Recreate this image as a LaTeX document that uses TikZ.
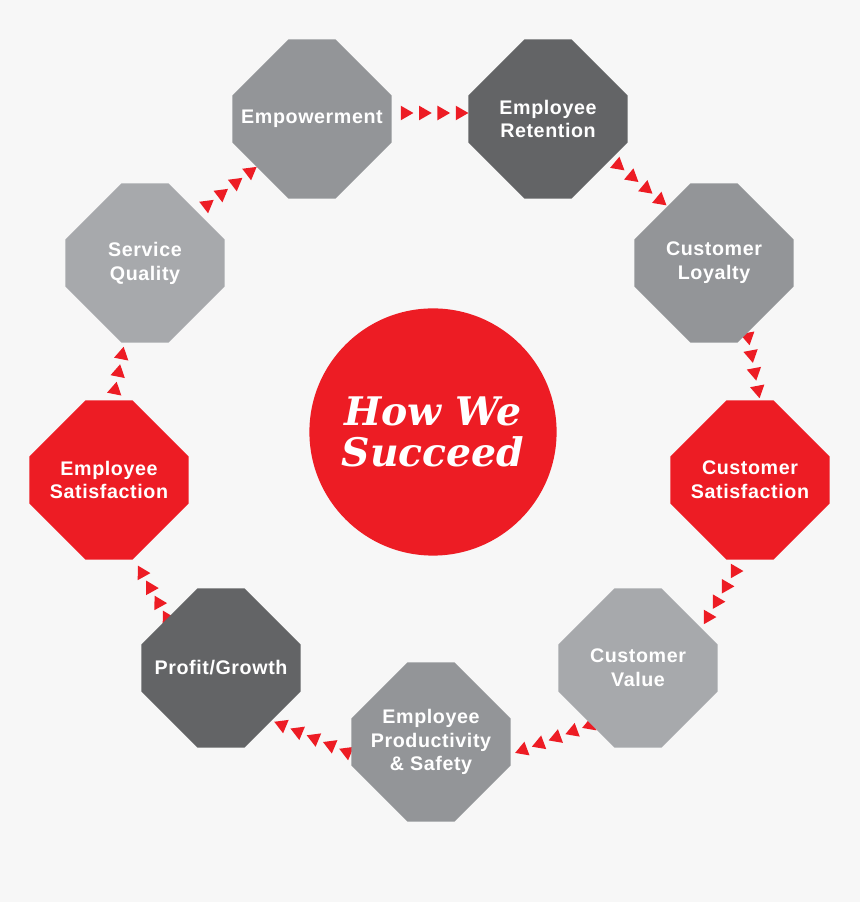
\documentclass[tikz,border=0pt]{standalone}
\usepackage{fontspec}
\usepackage{tikz}
\usetikzlibrary{calc,shapes.geometric,positioning}
\newfontfamily\octfont{Liberation Sans}[LetterSpace=3]
\newfontfamily\hubfont{DejaVu Serif}
\definecolor{cRed}{HTML}{ED1C24}
\definecolor{cMid}{HTML}{939598}
\definecolor{cDark}{HTML}{636466}
\definecolor{cLight}{HTML}{A7A9AC}
\definecolor{cBack}{HTML}{F7F7F7}
\tikzset{
  octo/.pic={\fill[pic actions] (-0.59,1.99) -- (0.59,1.99) -- (1.99,0.59) -- (1.99,-0.59)
    -- (0.59,-1.99) -- (-0.59,-1.99) -- (-1.99,-0.59) -- (-1.99,0.59) -- cycle;},
  lbl/.style={inner sep=0pt,text=white,align=center,
    font=\octfont\bfseries\fontsize{14}{17}\selectfont},
  hub/.style={circle,fill=cRed,minimum size=6.18cm,inner sep=0pt,text=white,align=center,
    font=\hubfont\bfseries\itshape\fontsize{28}{29}\selectfont},
  tri/.style={regular polygon,regular polygon sides=3,shape border rotate=-90,
    fill=cRed,inner sep=0pt,minimum size=0.42cm,sloped,allow upside down},
}
\begin{document}
\begin{tikzpicture}
  \fill[cBack] (0,0) rectangle (21.5,22.55);
  \useasboundingbox (0,0) rectangle (21.5,22.55);
  % ends of the arrow rows
  \coordinate (a1) at (10.125,19.725); \coordinate (b1) at (11.5,19.725);
  \coordinate (a2) at (15.45,18.425);  \coordinate (b2) at (16.5,17.55);
  \coordinate (a3) at (18.7,14.125);   \coordinate (b3) at (18.95,12.8);
  \coordinate (a4) at (18.375,8.275);  \coordinate (b4) at (17.7,7.125);
  \coordinate (a5) at (14.75,4.425);   \coordinate (b5) at (13.075,3.8);
  \coordinate (a6) at (8.675,3.75);    \coordinate (b6) at (7.05,4.425);
  \coordinate (a7) at (4.175,7.1);     \coordinate (b7) at (3.55,8.225);
  \coordinate (a8) at (2.875,12.8);    \coordinate (b8) at (3.05,13.675);
  \coordinate (a9) at (5.175,17.425);  \coordinate (b9) at (6.25,18.25);
  % arrow rows
  \path (a1) -- (b1) foreach \p in {0,.333,.667,1} {node[tri,pos=\p] {}};
  \path (a2) -- (b2) foreach \p in {0,.333,.667,1} {node[tri,pos=\p] {}};
  \path (a3) -- (b3) foreach \p in {0,.333,.667,1} {node[tri,pos=\p] {}};
  \path (a4) -- (b4) foreach \p in {0,.333,.667,1} {node[tri,pos=\p] {}};
  \path (a5) -- (b5) foreach \p in {0,.25,.5,.75,1} {node[tri,pos=\p] {}};
  \path (a6) -- (b6) foreach \p in {0,.25,.5,.75,1} {node[tri,pos=\p] {}};
  \path (a7) -- (b7) foreach \p in {0,.333,.667,1} {node[tri,pos=\p] {}};
  \path (a8) -- (b8) foreach \p in {0,.5,1} {node[tri,pos=\p] {}};
  \path (a9) -- (b9) foreach \p in {0,.333,.667,1} {node[tri,pos=\p] {}};
  % octagons
  \path (7.8,19.575)   pic[fill=cMid]   {octo} node[lbl] (emp)  {Empowerment};
  \path (13.7,19.575)  pic[fill=cDark]  {octo} node[lbl] (ret)  {Employee\\Retention};
  \path (17.85,15.975) pic[fill=cMid]   {octo} node[lbl] (loy)  {Customer\\Loyalty};
  \path (18.75,10.55)  pic[fill=cRed]   {octo} node[lbl] (csat) {Customer\\Satisfaction};
  \path (15.95,5.85)   pic[fill=cLight] {octo} node[lbl] (cval) {Customer\\Value};
  \path (10.775,4.0)   pic[fill=cMid]   {octo} node[lbl] (prod) {Employee\\Productivity\\\& Safety};
  \path (5.525,5.85)   pic[fill=cDark]  {octo} node[lbl] (prof) {Profit/Growth};
  \path (2.725,10.55)  pic[fill=cRed]   {octo} node[lbl] (esat) {Employee\\Satisfaction};
  \path (3.625,15.975) pic[fill=cLight] {octo} node[lbl] (sq)   {Service\\Quality};
  % centre
  \node[hub] (how) at (10.825,11.75) {How We\\Succeed};
\end{tikzpicture}
\end{document}
